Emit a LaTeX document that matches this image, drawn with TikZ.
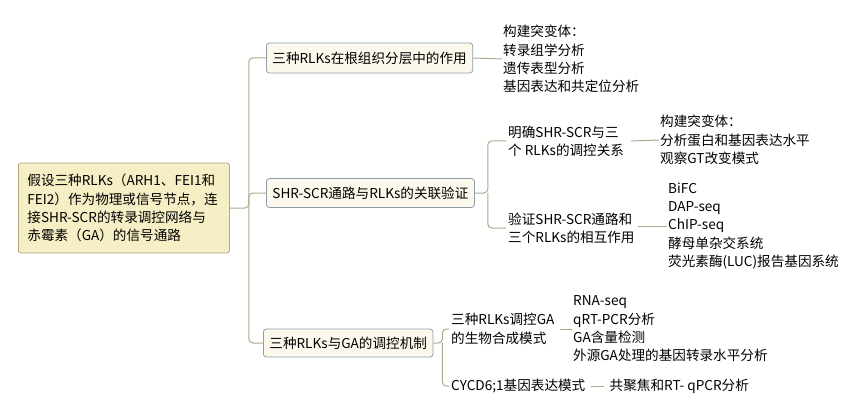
\documentclass[tikz,border=0pt]{standalone}
\usepackage{fontspec}
\setmainfont{Noto Sans CJK SC}
\usepackage{tikz}
\usetikzlibrary{positioning}
\definecolor{rootFill}{HTML}{F6EEC4}
\definecolor{rootLine}{HTML}{B2A97F}
\definecolor{boxFill}{HTML}{FCF9EC}
\definecolor{boxLine}{HTML}{8E9DA7}
\definecolor{linkCol}{HTML}{B0A78C}
\def\gap{9}
\begin{document}
\begin{tikzpicture}[
    x=1pt, y=-1pt,
    font=\fontsize{13.6}{18.3}\selectfont,
    rootbox/.style={draw=rootLine, fill=rootFill, rounded corners=2.5pt, line width=0.8pt,
        align=left, inner xsep=9pt, inner ysep=6pt, anchor=west},
    branchbox/.style={draw=boxLine, fill=boxFill, rounded corners=3pt, line width=0.8pt,
        inner xsep=6pt, inner ysep=5pt, anchor=west},
    leaf/.style={align=left, inner sep=1pt, anchor=west},
    link/.style={draw=linkCol, line width=1pt, rounded corners=4pt}
]
\useasboundingbox (0,0) rectangle (865,417);

% root
\node[rootbox, minimum width=211pt, minimum height=90pt, text width=193pt] (root) at (18,208)
  {假设三种RLKs（ARH1、FEI1和\\FEI2）作为物理或信号节点，连\\接SHR-SCR的转录调控网络与\\赤霉素（GA）的信号通路};

% first level
\node[branchbox, minimum height=30pt] (tissue) at (266,58) {三种RLKs在根组织分层中的作用};
\node[branchbox, minimum height=29pt] (shr) at (266,193) {SHR-SCR通路与RLKs的关联验证};
\node[branchbox, minimum height=28pt] (ga) at (263,343) {三种RLKs与GA的调控机制};

% second level
\node[leaf] (tissueL) at (502,59) {构建突变体：\\转录组学分析\\遗传表型分析\\基因表达和共定位分析};
\node[leaf] (relate) at (507,141) {明确SHR-SCR与三\\个 RLKs的调控关系};
\node[leaf] (verify) at (507,228) {验证SHR-SCR通路和\\三个RLKs的相互作用};
\node[leaf] (gaSyn) at (450,329) {三种RLKs调控GA\\的生物合成模式};
\node[leaf] (cycd) at (450,386) {CYCD6;1基因表达模式};

% third level
\node[leaf] (relateL) at (659,140) {构建突变体：\\分析蛋白和基因表达水平\\观察GT改变模式};
\node[leaf] (verifyL) at (667,226) {BiFC\\DAP-seq\\ChIP-seq\\酵母单杂交系统\\荧光素酶(LUC)报告基因系统};
\node[leaf] (gaSynL) at (572,329) {RNA-seq\\qRT-PCR分析\\GA含量检测\\外源GA处理的基因转录水平分析};
\node[leaf, right=22pt of cycd] (cycdL) {共聚焦和RT- qPCR分析};

% links
\draw[link] (root.east) -- ++(19,0) coordinate (trunk) |- (tissue.west);
\draw[link] (trunk) |- (ga.west);
\draw[link] (trunk) |- (shr.west);
\draw[link] (tissue.east) -- (tissueL.west);
\draw[link] (shr.east) -- ++(13,0) coordinate (shrFork) |- ([xshift=-1pt]relate.west);
\draw[link] (shrFork) |- ([xshift=-1pt]verify.west);
\draw[link] (ga.east) -- ++(\gap,0) coordinate (gaFork) |- ([xshift=-1pt]gaSyn.west);
\draw[link] (gaFork) |- ([xshift=-1pt]cycd.west);
\draw[link] ([xshift=6pt]relate.east) -- (relateL.west);
\draw[link] ([xshift=2pt]verify.east |- verifyL.west) -- (verifyL.west);
\draw[link] ([xshift=4pt]gaSyn.east) -- (gaSynL.west);
\draw[link] ([xshift=4pt]cycd.east) -- ([xshift=-5pt]cycdL.west);
\end{tikzpicture}
\end{document}
